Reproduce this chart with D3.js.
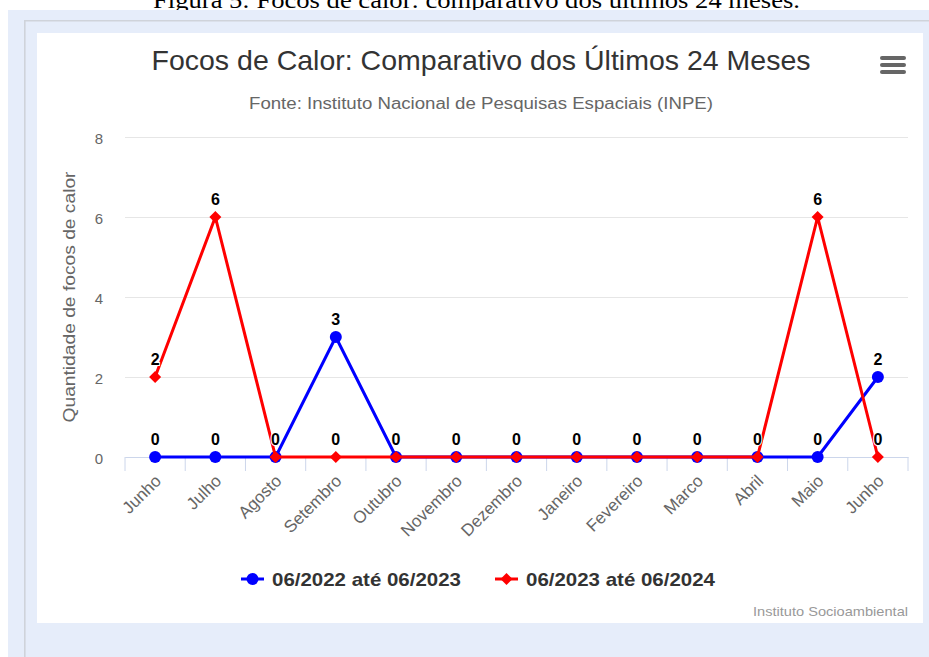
<!DOCTYPE html>
<html>
<head>
<meta charset="utf-8">
<script src="https://cdn.jsdelivr.net/npm/d3@7"></script>
<style>
  body { margin: 0; background: #fff; }
  svg { display: block; }
  text { font-family: "Liberation Sans", Arial, sans-serif; }
</style>
</head>
<body>
<div id="chart"></div>
<script>
// chart values
var months = ["Junho", "Julho", "Agosto", "Setembro", "Outubro", "Novembro", "Dezembro",
  "Janeiro", "Fevereiro", "Marco", "Abril", "Maio", "Junho"];
var focos2022 = [0, 0, 0, 3, 0, 0, 0, 0, 0, 0, 0, 0, 2];
var focos2023 = [2, 6, 0, 0, 0, 0, 0, 0, 0, 0, 0, 6, 0];
var yTicks = [0, 2, 4, 6, 8];
var seriesNames = ["06/2022 até 06/2023", "06/2023 até 06/2024"];
var seriesColors = ["#0000ff", "#ff0000"];

// svg size
var svgWidth = 929;
var svgHeight = 657;

// plot area
var plot = { left: 125, right: 908, top: 137, bottom: 457 };

var svg = d3.select("#chart")
  .append("svg")
  .attr("width", svgWidth)
  .attr("height", svgHeight);

// squeeze text to a given width
function fit(sel, w) {
  sel.attr("textLength", w).attr("lengthAdjust", "spacingAndGlyphs");
}

// caption above the frame (cut by the panel, as in the document)
svg.append("text")
  .attr("x", 153)
  .attr("y", 8)
  .style("font-family", "'Liberation Serif', 'Times New Roman', serif")
  .attr("font-size", 24)
  .attr("fill", "#000")
  .text("Figura 5: Focos de calor: comparativo dos últimos 24 meses.")
  .call(fit, 647);

// background panel and frame
svg.append("rect")
  .attr("x", 8).attr("y", 10)
  .attr("width", svgWidth - 8).attr("height", svgHeight - 10)
  .attr("fill", "#e6edfa");
svg.append("path")
  .attr("d", "M24.8,657V20.8H929")
  .attr("fill", "none")
  .attr("stroke", "#cfd3da")
  .attr("stroke-width", 1.6);
svg.append("rect")
  .attr("x", 37).attr("y", 33)
  .attr("width", 886).attr("height", 590)
  .attr("fill", "#fff");

// title and subtitle
svg.append("text")
  .attr("x", 481).attr("y", 70)
  .attr("text-anchor", "middle")
  .attr("font-size", 28)
  .attr("fill", "#333")
  .text("Focos de Calor: Comparativo dos Últimos 24 Meses")
  .call(fit, 659);

svg.append("text")
  .attr("x", 481).attr("y", 109)
  .attr("text-anchor", "middle")
  .attr("font-size", 16)
  .attr("fill", "#666")
  .text("Fonte: Instituto Nacional de Pesquisas Espaciais (INPE)")
  .call(fit, 464);

// menu icon
[58, 65, 72].forEach(function(yy) {
  svg.append("line")
    .attr("x1", 882).attr("x2", 904)
    .attr("y1", yy).attr("y2", yy)
    .attr("stroke", "#666")
    .attr("stroke-width", 4)
    .attr("stroke-linecap", "round");
});

// scales
var xBand = d3.scaleBand()
  .domain(d3.range(months.length))
  .range([plot.left, plot.right]);
var xCenter = function(i) { return xBand(i) + xBand.bandwidth() / 2; };

var yLinearScale = d3.scaleLinear()
  .domain([0, 8])
  .range([plot.bottom, plot.top]);

// y grid and labels
var leftAxis = d3.axisLeft(yLinearScale)
  .tickValues(yTicks)
  .tickSize(-(plot.right - plot.left))
  .tickPadding(22);

var yAxisG = svg.append("g")
  .attr("transform", `translate(${plot.left}, 0)`)
  .call(leftAxis);
yAxisG.select(".domain").remove();
yAxisG.selectAll("line").attr("stroke", "#e6e6e6").attr("stroke-width", 1);
yAxisG.selectAll("text")
  .attr("fill", "#666")
  .attr("font-size", 15)
  .style("font-family", "'Liberation Sans', Arial, sans-serif")
  .attr("dy", "0.45em");

// y title
svg.append("text")
  .attr("transform", "translate(75, 297) rotate(-90)")
  .attr("text-anchor", "middle")
  .attr("font-size", 16)
  .attr("fill", "#666")
  .text("Quantidade de focos de calor")
  .call(fit, 251);

// x axis
var bottomAxis = d3.axisBottom(xBand)
  .tickSize(0)
  .tickFormat(function(i) { return months[i]; });

var xAxisG = svg.append("g")
  .attr("transform", `translate(0, ${plot.bottom})`)
  .call(bottomAxis);
xAxisG.select(".domain").attr("stroke", "#ccd6eb");
xAxisG.selectAll("text")
  .attr("fill", "#666")
  .attr("font-size", 17)
  .style("font-family", "'Liberation Sans', Arial, sans-serif")
  .attr("text-anchor", "end")
  .attr("dy", 0)
  .attr("y", 0)
  .attr("transform", "translate(7, 25) rotate(-45)");

// tick marks between the categories
var tickPos = d3.range(months.length).map(function(i) { return xBand(i); }).concat([plot.right]);
svg.append("g")
  .selectAll("line")
  .data(tickPos)
  .enter()
  .append("line")
  .attr("x1", d => d).attr("x2", d => d)
  .attr("y1", plot.bottom).attr("y2", plot.bottom + 14)
  .attr("stroke", "#ccd6eb")
  .attr("stroke-width", 1);

// lines and markers
var line = d3.line()
  .x((d, i) => xCenter(i))
  .y(d => yLinearScale(d));

var allSeries = [focos2022, focos2023];

allSeries.forEach(function(data, s) {
  var g = svg.append("g");
  g.append("path")
    .datum(data)
    .attr("d", line)
    .attr("fill", "none")
    .attr("stroke", seriesColors[s])
    .attr("stroke-width", 3)
    .attr("stroke-linejoin", "round");

  var sym = s === 0
    ? d3.symbol().type(d3.symbolCircle).size(Math.PI * 36)
    : d3.symbol().type(d3.symbolSquare).size(72);

  g.selectAll("path.marker")
    .data(data)
    .enter()
    .append("path")
    .attr("class", "marker")
    .attr("d", sym)
    .attr("transform", (d, i) => `translate(${xCenter(i)}, ${yLinearScale(d)})` + (s === 1 ? " rotate(45)" : ""))
    .attr("fill", seriesColors[s]);
});

// data labels (skip a label that sits on the same spot as the other series)
allSeries.forEach(function(data, s) {
  svg.append("g")
    .selectAll("text")
    .data(data.map((d, i) => ({ v: d, i: i })).filter(d => s === 0 || d.v !== focos2022[d.i]))
    .enter()
    .append("text")
    .attr("x", d => xCenter(d.i))
    .attr("y", d => yLinearScale(d.v) - 12)
    .attr("text-anchor", "middle")
    .attr("font-size", 16)
    .attr("font-weight", "bold")
    .attr("fill", "#000")
    .attr("stroke", "#fff")
    .attr("stroke-width", 2)
    .attr("paint-order", "stroke")
    .text(d => d.v);
});

// legend
var legendX = [241, 495];
seriesNames.forEach(function(name, s) {
  var lg = svg.append("g").attr("transform", `translate(${legendX[s]}, 579)`);
  lg.append("line")
    .attr("x1", 0).attr("x2", 23)
    .attr("stroke", seriesColors[s])
    .attr("stroke-width", 3);
  lg.append("path")
    .attr("d", s === 0
      ? d3.symbol().type(d3.symbolCircle).size(Math.PI * 36)()
      : d3.symbol().type(d3.symbolSquare).size(72)())
    .attr("transform", "translate(11.5, 0)" + (s === 1 ? " rotate(45)" : ""))
    .attr("fill", seriesColors[s]);
  lg.append("text")
    .attr("x", 31).attr("y", 7)
    .attr("font-size", 19)
    .attr("font-weight", "bold")
    .attr("fill", "#333")
    .text(name)
    .call(fit, 189);
});

// credits
svg.append("text")
  .attr("x", 908).attr("y", 616)
  .attr("text-anchor", "end")
  .attr("font-size", 13)
  .attr("fill", "#999")
  .text("Instituto Socioambiental")
  .call(fit, 155);
</script>
</body>
</html>
